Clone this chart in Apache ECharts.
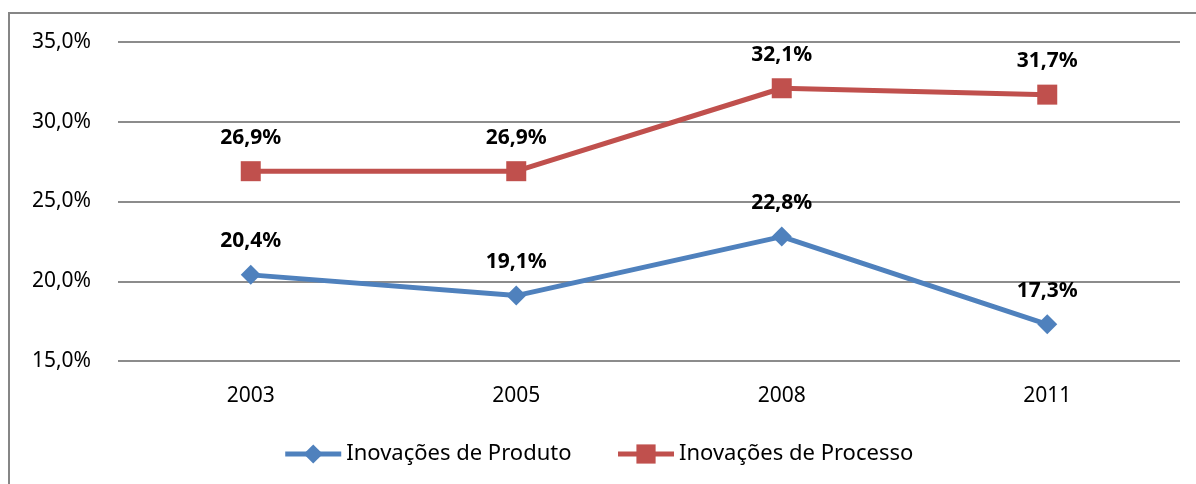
<!DOCTYPE html>
<html>
<head>
<meta charset="utf-8">
<script src="https://cdn.jsdelivr.net/npm/echarts@6/dist/echarts.min.js"></script>
<style>
  html, body { margin: 0; padding: 0; background: #fff; }
  #output { width: 1196px; height: 484px; }
</style>
</head>
<body>
<div id="output"></div>
<script>
const chart = echarts.init(document.getElementById('output'));

const years = ['2003', '2005', '2008', '2011'];
const produto = [20.4, 19.1, 22.8, 17.3];
const processo = [26.9, 26.9, 32.1, 31.7];

const fmt = v => v.toFixed(1).replace('.', ',') + '%';
const font = '"Noto Sans", sans-serif';

chart.setOption({
  animation: false,
  textStyle: { fontFamily: font },
  graphic: [{
    type: 'rect',
    shape: { x: 9, y: 13, width: 1200, height: 500 },
    style: { fill: 'none', stroke: '#868686', lineWidth: 2 },
    silent: true
  }],
  grid: { left: 118, right: 16, top: 42, bottom: 123 },
  legend: {
    bottom: 14,
    left: 'center',
    itemWidth: 56,
    itemHeight: 24,
    itemGap: 44,
    lineStyle: { width: 5 },
    textStyle: { fontSize: 22, color: '#000', fontFamily: font },
    data: ['Inovações de Produto', 'Inovações de Processo']
  },
  xAxis: {
    type: 'category',
    data: years,
    axisLine: { show: false },
    axisTick: { show: false },
    axisLabel: { fontSize: 21, color: '#000', margin: 25 }
  },
  yAxis: {
    type: 'value',
    min: 15,
    max: 35,
    interval: 5,
    axisLine: { show: false },
    axisTick: { show: false },
    axisLabel: { fontSize: 21, color: '#000', margin: 27, formatter: v => fmt(v) },
    splitLine: { lineStyle: { color: '#8c8c8c', width: 2 } }
  },
  series: [
    {
      name: 'Inovações de Produto',
      type: 'line',
      data: produto,
      symbol: 'diamond',
      symbolSize: 20,
      itemStyle: { color: '#4F81BD' },
      lineStyle: { width: 5, color: '#4F81BD' },
      label: {
        show: true, position: 'top', distance: 13,
        fontSize: 21, fontWeight: 'bold', color: '#000',
        formatter: p => fmt(p.value)
      }
    },
    {
      name: 'Inovações de Processo',
      type: 'line',
      data: processo,
      symbol: 'rect',
      symbolSize: 20,
      itemStyle: { color: '#C0504D' },
      lineStyle: { width: 5, color: '#C0504D' },
      label: {
        show: true, position: 'top', distance: 13,
        fontSize: 21, fontWeight: 'bold', color: '#000',
        formatter: p => fmt(p.value)
      }
    }
  ]
});
</script>
</body>
</html>
